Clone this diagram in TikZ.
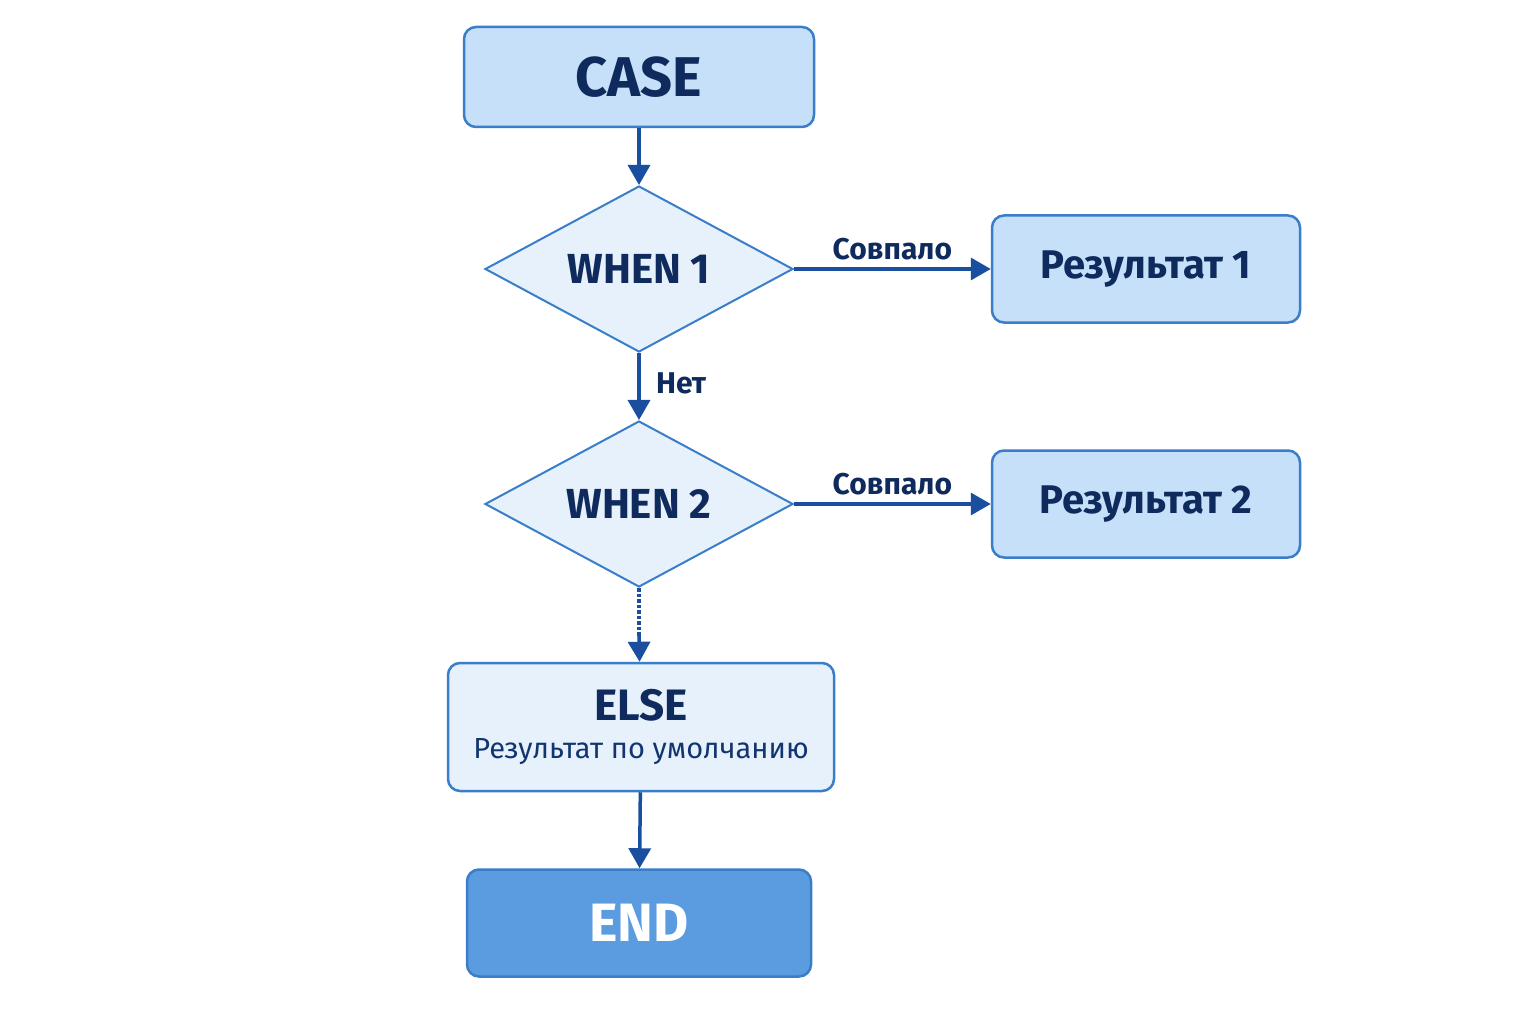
\documentclass[tikz,border=0pt]{standalone}
\usepackage{fontspec}
\setmainfont{Fira Sans}
\usetikzlibrary{shapes.geometric,arrows.meta}
\definecolor{fillA}{HTML}{C6E0FA}
\definecolor{fillD}{HTML}{E6F1FC}
\definecolor{edge}{HTML}{3A7DC9}
\definecolor{navy}{HTML}{0F2A5C}
\definecolor{arr}{HTML}{1A4FA0}
\definecolor{endf}{HTML}{5B9BDF}
\begin{document}
\begin{tikzpicture}[x=1pt,y=-1pt,
  box/.style={draw=edge,line width=2.5pt,rounded corners=12pt,fill=fillA,text=navy,inner sep=0pt},
  dia/.style={draw=edge,line width=2pt,fill=fillD,diamond,aspect=1.85,inner sep=0pt,minimum width=308,minimum height=166,text=navy},
  con/.style={draw=arr,line width=3.5pt,-{Triangle[length=20pt,width=22pt]}},
  lab/.style={text=navy,font=\fontsize{30}{34}\selectfont\bfseries}]
\fill[white] (0,0) rectangle (1536,1024);
\node[box,minimum width=350,minimum height=100,font=\fontsize{56}{60}\selectfont\bfseries] (case) at (639,77) {CASE};
\node[dia,font=\fontsize{42}{46}\selectfont\bfseries] (w1) at (639,269) {WHEN 1};
\node[dia,font=\fontsize{42}{46}\selectfont\bfseries] (w2) at (639,504) {WHEN 2};
\node[box,minimum width=308,minimum height=107,font=\fontsize{40}{44}\selectfont\bfseries] (r1) at (1146,269) {Результат 1};
\node[box,minimum width=308,minimum height=107,font=\fontsize{40}{44}\selectfont\bfseries] (r2) at (1146,504) {Результат 2};
\node[box,fill=fillD,minimum width=386,minimum height=128] (else) at (641,727) {};
\node[text=navy,font=\fontsize{44}{48}\selectfont\bfseries] (elset) at (641,705) {ELSE};
\node[text=navy!70!arr,font=\fontsize{29}{32}\selectfont] (elses) at (641,752) {Результат по умолчанию};
\node[box,fill=endf,text=white,minimum width=344,minimum height=107,font=\fontsize{54}{58}\selectfont\bfseries] (end) at (639,923) {END};
\draw[con] (case) -- (w1);
\draw[con] (w1) -- node[lab,right=12pt,pos=0.45]{Нет} (w2);
\draw[con] (w1) -- node[lab,above=4pt]{Совпало} (r1);
\draw[con] (w2) -- node[lab,above=4pt]{Совпало} (r2);
\draw[arr,line width=3.5pt,dotted] (w2.south) -- ++(0,48) coordinate (dd);
\draw[con,shorten <=-2pt] (dd) -- (else);
\draw[con] (else) -- (end);
\end{tikzpicture}
\end{document}
